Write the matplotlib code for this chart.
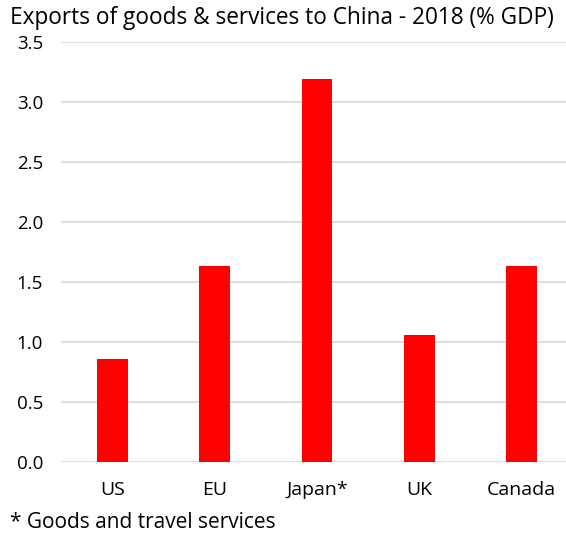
import matplotlib.pyplot as plt

# ---------------- DATA ----------------
countries = ["US", "EU", "Japan*", "UK", "Canada"]
exports_pct_gdp = [0.86, 1.63, 3.19, 1.06, 1.63]
yticks = [0.0, 0.5, 1.0, 1.5, 2.0, 2.5, 3.0, 3.5]

plt.rcParams["font.family"] = ["Open Sans", "DejaVu Sans"]

W, H = 566, 538
fig = plt.figure(figsize=(W / 100, H / 100), dpi=100)
ax = fig.add_axes([61 / W, 76 / H, 512 / W, 420 / H])

x = range(len(countries))
ax.bar(x, exports_pct_gdp, width=0.30, color="#ff0000", zorder=3)

ax.set_xlim(-0.5, 4.5)
ax.set_ylim(0, 3.5)
ax.set_yticks(yticks)
ax.set_yticklabels([f"{v:.1f}" for v in yticks], fontsize=13.5)
ax.set_xticks(list(x))
ax.set_xticklabels(countries, fontsize=14)
ax.tick_params(axis="both", length=0)
ax.tick_params(axis="y", pad=13)
ax.tick_params(axis="x", pad=14)
ax.grid(axis="y", color="#dedede", linewidth=1.5, zorder=0)
ax.set_axisbelow(True)
for s in ax.spines.values():
    s.set_visible(False)

fig.text(10 / W, 1 - 18 / H, "Exports of goods & services to China - 2018 (% GDP)",
         fontsize=16.3, va="center", ha="left")
fig.text(10 / W, 1 - 522 / H, "* Goods and travel services",
         fontsize=15, va="center", ha="left")

fig.savefig("out.png", dpi=100)
